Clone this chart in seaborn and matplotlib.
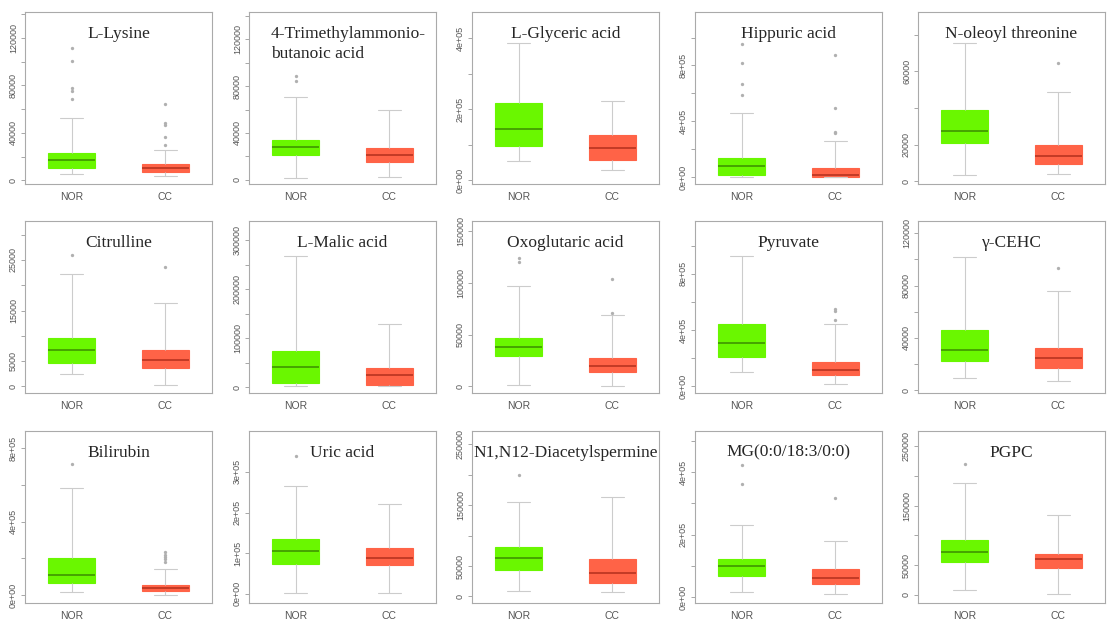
import numpy as np
import pandas as pd
import matplotlib
matplotlib.use("Agg")
import matplotlib.pyplot as plt
import seaborn as sns

# metabolite panels: whisker low, Q1, median, Q3, whisker high
titles = ["L-Lysine", "4-Trimethylammonio-\nbutanoic acid", "L-Glyceric acid",
          "Hippuric acid", "N-oleoyl threonine", "Citrulline", "L-Malic acid",
          "Oxoglutaric acid", "Pyruvate", "γ-CEHC", "Bilirubin", "Uric acid",
          "N1,N12-Diacetylspermine", "MG(0:0/18:3/0:0)", "PGPC"]
groups = ["NOR", "CC"]

nor_box = [[4900, 10600, 16900, 23400, 52900],
           [1500, 21200, 27600, 33900, 71000],
           [54300, 95200, 144700, 218000, 384600],
           [1000, 15000, 80000, 140600, 463000],
           [3300, 20700, 27200, 39200, 75300],
           [2490, 4710, 7190, 9480, 22240],
           [1400, 8100, 41900, 73700, 268400],
           [1300, 29500, 37800, 46500, 96800],
           [101200, 211800, 310600, 447000, 929400],
           [9750, 22500, 31000, 46250, 101750],
           [19600, 66100, 110700, 200000, 584000],
           [1000, 72500, 104800, 134600, 266000],
           [8600, 43200, 62700, 81600, 155700],
           [15800, 68400, 97900, 121100, 231700],
           [8300, 55600, 72200, 91700, 187800]]
cc_box = [[3400, 7100, 10000, 13400, 25700],
          [2000, 15400, 20900, 26700, 59500],
          [28600, 56200, 89500, 127600, 223700],
          [500, 2000, 19400, 67900, 261800],
          [4100, 9250, 13900, 19800, 48700],
          [330, 3600, 5230, 7190, 16480],
          [1400, 3400, 25000, 38500, 127800],
          [600, 13800, 20200, 27200, 69500],
          [18800, 77600, 117600, 176500, 447000],
          [7250, 17250, 25000, 32500, 75500],
          [1800, 21400, 39300, 57100, 144700],
          [2000, 70100, 87000, 112800, 220000],
          [8100, 21600, 38400, 61100, 163800],
          [8400, 42100, 61100, 89500, 179000],
          [1700, 44400, 60000, 69400, 135000]]

nor_out = [[68600, 75000, 77500, 100600, 112000], [84100, 89000], [],
           [589000, 667000, 819000, 957000], [], [26030], [], [120200, 124000],
           [], [], [712600], [340000], [200000], [361200, 424400], [219500]]
cc_out = [[29700, 36900, 46300, 48300, 64300], [], [],
          [315000, 327000, 499000, 872700], [64800], [23540], [], [71200, 104200],
          [470600, 536500, 553000], [93750], [180400, 194700, 209000, 221000, 234000],
          [], [], [315900], []]

ylims = [(-3140, 142000), (-3800, 143500), (-10500, 473000), (-48500, 1183000),
         (-1500, 92500), (-1300, 32700), (-12000, 339000), (-6400, 160000),
         (-47000, 1176000), (-2000, 129250), (-42900, 894800), (-22600, 400600),
         (-10800, 271900), (-19000, 531800), (-13900, 275600)]
yticks = [list(range(0, 140001, 20000)), list(range(0, 140001, 20000)),
          [0, 1e5, 2e5, 3e5, 4e5], [0, 2e5, 4e5, 6e5, 8e5, 1e6],
          [0, 20000, 40000, 60000, 80000], list(range(0, 30001, 5000)),
          list(range(0, 300001, 50000)), [0, 50000, 100000, 150000],
          [0, 2e5, 4e5, 6e5, 8e5, 1e6], list(range(0, 120001, 20000)),
          [0, 2e5, 4e5, 6e5, 8e5], [0, 1e5, 2e5, 3e5],
          list(range(0, 250001, 50000)), [0, 1e5, 2e5, 3e5, 4e5, 5e5],
          list(range(0, 250001, 50000))]
ylabeled = [[0, 40000, 80000, 120000], [0, 40000, 80000, 120000], [0, 2e5, 4e5],
            [0, 4e5, 8e5], [0, 20000, 60000], [0, 5000, 15000, 25000],
            [0, 100000, 200000, 300000], [0, 50000, 100000, 150000], [0, 4e5, 8e5],
            [0, 40000, 80000, 120000], [0, 4e5, 8e5], [0, 1e5, 2e5, 3e5],
            [0, 50000, 150000, 250000], [0, 2e5, 4e5], [0, 50000, 150000, 250000]]
sci = [False, False, True, True, False, False, False, False, True, False,
       True, True, False, True, False]

fills = {"NOR": "#6af700", "CC": "#ff6347"}
med_colors = ["#3c8c00", "#b3301c"]

sns.set_style("white")
plt.rcParams['font.family'] = ['Liberation Sans', 'DejaVu Sans']

fig = plt.figure(figsize=(11.1, 6.2), dpi=100)
lefts = [25, 249, 472, 695, 918]
tops = [12, 221, 431]
pw, ph = 187, 172

for i in range(15):
    r, c = divmod(i, 5)
    ax = fig.add_axes([lefts[c] / 1110, 1 - (tops[r] + ph) / 620, pw / 1110, ph / 620])
    df = pd.DataFrame({"group": ["NOR"] * 5 + ["CC"] * 5,
                       "value": nor_box[i] + cc_box[i]})
    sns.boxplot(data=df, x="group", y="value", order=groups, hue="group",
                hue_order=groups, palette=fills, saturation=1, width=0.5,
                whis=(0, 100), linecolor="#cccccc", linewidth=0.8, legend=False, ax=ax)
    for cont, mc in zip(ax.containers, med_colors):
        for b in cont.boxes:
            b.set_edgecolor(b.get_facecolor())
        for m in cont.medians:
            m.set_color(mc)
            m.set_linewidth(1.1)

    out = pd.DataFrame({"group": ["NOR"] * len(nor_out[i]) + ["CC"] * len(cc_out[i]),
                        "value": nor_out[i] + cc_out[i]})
    if len(out):
        sns.stripplot(data=out, x="group", y="value", order=groups, jitter=False,
                      color="#b0b0b0", size=2.4, ax=ax)

    ax.set_xlim(-0.5, 1.5)
    ax.set_ylim(*ylims[i])
    ax.set_xticks([0, 1])
    ax.set_xticklabels(groups, fontsize=7.5, color="#555555")
    labs = []
    for v in yticks[i]:
        if v in ylabeled[i]:
            labs.append(f"{v:.0e}" if sci[i] else str(int(v)))
        else:
            labs.append("")
    ax.set_yticks(yticks[i])
    ax.set_yticklabels(labs, rotation=90, va="center", fontsize=6.5, color="#555555")
    ax.tick_params(axis="y", left=True, length=3, width=0.6, color="#999999", pad=2)
    ax.tick_params(axis="x", bottom=False, pad=2)
    ax.set_xlabel("")
    ax.set_ylabel("")
    for s in ax.spines.values():
        s.set_color("#aaaaaa")
        s.set_linewidth(0.8)
    tx = 0.53 if "\n" in titles[i] else 0.5
    ax.text(tx, 0.92, titles[i], transform=ax.transAxes, ha="center", va="top",
            family="Liberation Serif", fontsize=12.5, multialignment="left",
            linespacing=1.35)

plt.savefig("out.png", dpi=100)
